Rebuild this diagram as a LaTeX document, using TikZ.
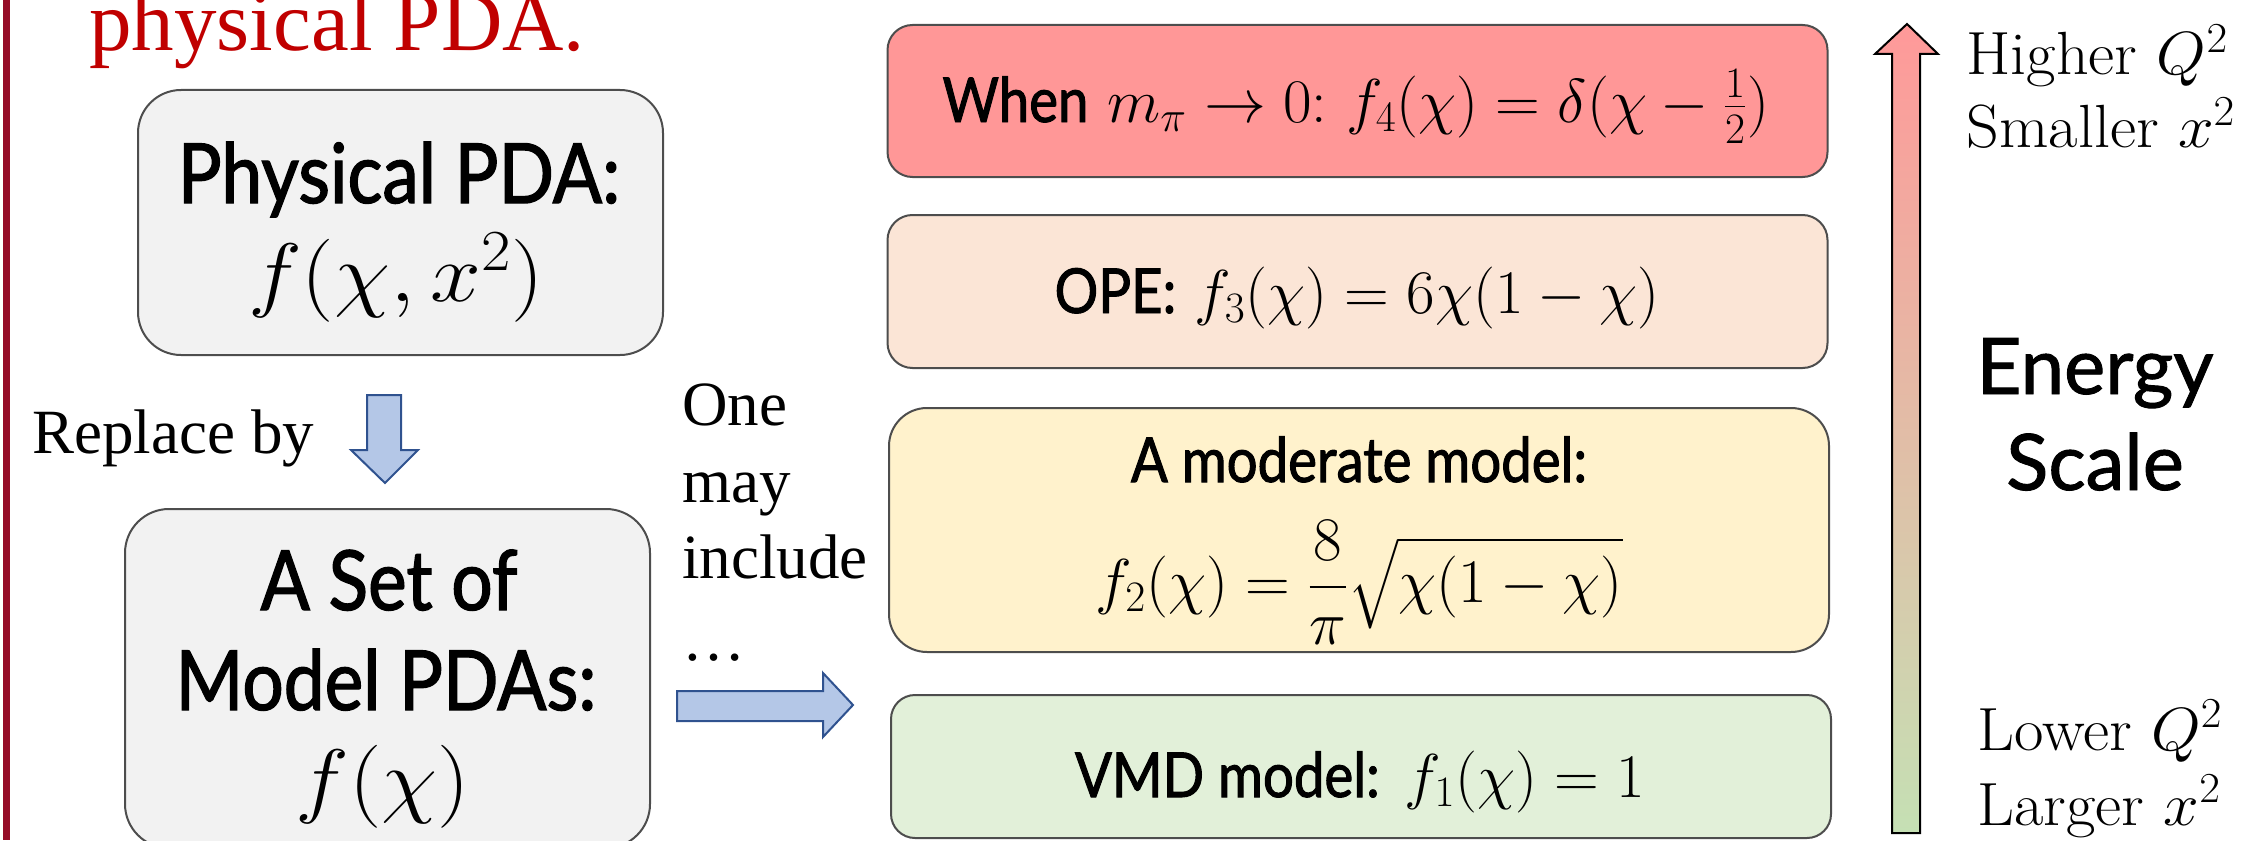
\RequirePackage{fix-cm}
\documentclass[tikz,border=0pt]{standalone}
\usepackage{amsmath}
\usepackage{graphicx}
\usepackage{fontspec}
\newfontfamily\tnr{Liberation Serif}
\newfontfamily\cond[FakeStretch=0.88,FakeBold=1.6]{Lato}
\newfontfamily\esf[FakeBold=1.2]{Lato}
\newcommand{\wider}[1]{\scalebox{1.1}[1]{#1}}
\newcommand{\widenote}[1]{\scalebox{1.05}[1]{#1}}
\definecolor{titlered}{HTML}{C00000}
\definecolor{leftbar}{RGB}{150,12,40}
\definecolor{boxline}{HTML}{4D4D4D}
\definecolor{physfill}{HTML}{F2F2F2}
\definecolor{redfill}{HTML}{FF9797}
\definecolor{peachfill}{HTML}{FBE5D6}
\definecolor{yellowfill}{HTML}{FFF2CC}
\definecolor{greenfill}{HTML}{E2F0D9}
\definecolor{bafill}{HTML}{B4C7E7}
\definecolor{baline}{HTML}{2F528F}
\definecolor{scaletop}{HTML}{FF9999}
\definecolor{scalebot}{HTML}{C5E0B4}
\tikzset{
  bigbox/.style={draw=boxline, line width=1pt, fill=physfill, inner sep=0pt},
  bigtext/.style={inner sep=0pt, anchor=base, font=\fontsize{41.5}{50}\selectfont},
  levelbox/.style={draw=boxline, line width=1pt, inner sep=0pt, minimum width=470pt},
  leveltext/.style={inner sep=0pt, anchor=base, font=\fontsize{31}{37}\selectfont},
  blockarrow/.style={draw=baline, line width=1pt, fill=bafill, line join=miter},
  serifnote/.style={inner sep=0pt, anchor=base west, font=\tnr\fontsize{31.5}{38.5}\selectfont},
  scalenote/.style={inner sep=0pt, anchor=base west, font=\fontsize{30.5}{36}\selectfont},
  energytext/.style={inner sep=0pt, anchor=base, font=\esf\fontsize{39}{48}\selectfont},
}
\begin{document}
\begin{tikzpicture}[x=0.5pt,y=-0.5pt]
\useasboundingbox (0,0) rectangle (2247,840);
% left bar
\fill[leftbar] (3,0) rectangle (10,840);
% title fragment
\node[inner sep=0pt, anchor=base west, text=titlered, font=\tnr\fontsize{42.5}{50}\selectfont] (title) at (89,51) {physical PDA.};
% left boxes
\node[bigbox, minimum width=262.5pt, minimum height=132.5pt, rounded corners=21.5pt] (phys) at (400.5,222.5) {};
\node[bigtext] (physA) at (399,203) {\cond Physical PDA:};
\node[bigtext] (physB) at (396,301) {\wider{$f(\chi, x^2)$}};
\node[bigbox, minimum width=262.5pt, minimum height=169.5pt, rounded corners=22pt] (model) at (387.5,678.5) {};
\node[bigtext] (modelA) at (389,610) {\cond A Set of};
\node[bigtext] (modelB) at (386,710) {\cond Model PDAs:};
\node[bigtext] (modelC) at (383,807) {\wider{$f(\chi)$}};
% replace by
\node[serifnote] (replace) at (32,453) {Replace by};
\draw[blockarrow] (367,395) -- (401,395) -- (401,450) -- (418,450) -- (385,483) -- (351,450) -- (367,450) -- cycle;
% one may include
\node[serifnote] (inc1) at (682,425) {One};
\node[serifnote] (inc2) at (682,502) {may};
\node[serifnote] (inc3) at (682,578) {include};
\node[serifnote] (inc4) at (682,660) {\ldots};
\draw[blockarrow] (677,691) -- (823,691) -- (823,673) -- (853,705) -- (823,737) -- (823,721) -- (677,721) -- cycle;
% right level boxes
\node[levelbox, fill=redfill, minimum height=76pt, rounded corners=12.5pt] (f4) at (1357.5,101) {};
\node[leveltext] (f4t) at (1356,122) {{\cond When} $m_\pi \rightarrow 0{:}\ f_4(\chi) = \delta(\chi - \frac{1}{2})$};
\node[levelbox, fill=peachfill, minimum height=76.5pt, rounded corners=12.5pt] (f3) at (1357.5,291.5) {};
\node[leveltext] (f3t) at (1357,313) {{\cond OPE:} $f_3(\chi) = 6\chi(1-\chi)$};
\node[levelbox, fill=yellowfill, minimum height=122pt, rounded corners=19pt] (f2) at (1359,530) {};
\node[leveltext] (f2a) at (1359,482) {\cond A moderate model:};
\node[leveltext] (f2b) at (1359,602) {$f_2(\chi) = \dfrac{8}{\pi}\sqrt{\chi(1-\chi)}$};
\node[levelbox, fill=greenfill, minimum height=71.5pt, rounded corners=12pt] (f1) at (1361,766.5) {};
\node[leveltext] (f1t) at (1360,797) {{\cond VMD model:} $f_1(\chi) = 1$};
% energy scale arrow
\shade[top color=scaletop, bottom color=scalebot] (1892,833) -- (1892,54) -- (1875,54) -- (1907,24) -- (1938,54) -- (1920,54) -- (1920,833) -- cycle;
\draw[black, line width=1pt, line join=miter] (1892,833) -- (1892,54) -- (1875,54) -- (1907,24) -- (1938,54) -- (1920,54) -- (1920,833) -- cycle;
\node[scalenote] (hq) at (1966,75) {\widenote{Higher $Q^2$}};
\node[scalenote] (sx) at (1966,148) {\widenote{Smaller $x^2$}};
\node[scalenote] (lq) at (1977,750) {\widenote{Lower $Q^2$}};
\node[scalenote] (lx) at (1977,825) {\widenote{Larger $x^2$}};
\node[energytext] (en1) at (2095,394) {Energy};
\node[energytext] (en2) at (2095,490) {Scale};
\end{tikzpicture}
\end{document}
